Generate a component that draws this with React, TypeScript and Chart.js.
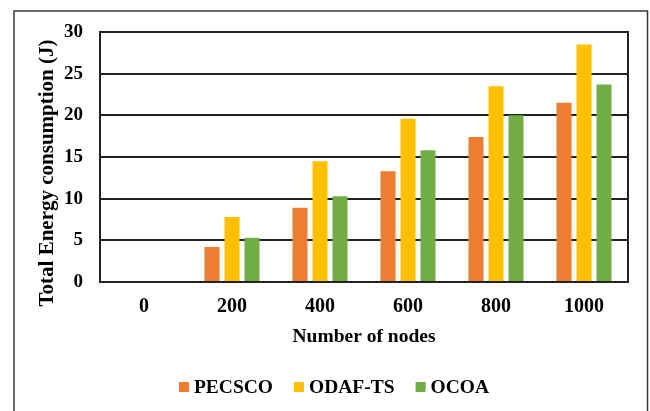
import React, { useEffect, useRef } from "react";
import { Chart, registerables } from "chart.js";

Chart.register(...registerables);

const categories = ["0", "200", "400", "600", "800", "1000"];
const pecsco = [0, 4.2, 8.9, 13.3, 17.4, 21.5];
const odafTs = [0, 7.8, 14.5, 19.6, 23.5, 28.5];
const ocoa = [0, 5.3, 10.3, 15.8, 20.0, 23.7];
const seriesLabels = ["PECSCO", "ODAF-TS", "OCOA"];
const seriesColors = ["#ED7D31", "#FFC000", "#70AD47"];
const yTitle = "Total Energy consumption (J)";
const xTitle = "Number of nodes";

const FONT = "'Liberation Serif', 'Times New Roman', serif";

// Frame, outer border, rotated y title and the legend row
const decorations = {
  id: "decorations",
  afterDraw(chart: any) {
    const { ctx, chartArea } = chart;
    ctx.save();

    // outer box around the whole figure
    ctx.strokeStyle = "#3a3a3a";
    ctx.lineWidth = 1.5;
    ctx.strokeRect(14, 11, 633.5, 420);

    // plot frame
    ctx.strokeStyle = "#222";
    ctx.lineWidth = 2;
    ctx.strokeRect(
      chartArea.left,
      chartArea.top,
      chartArea.right - chartArea.left,
      chartArea.bottom - chartArea.top
    );

    // y axis title
    ctx.fillStyle = "#000";
    ctx.font = `bold 21px ${FONT}`;
    ctx.textAlign = "center";
    ctx.textBaseline = "middle";
    ctx.translate(48, 173);
    ctx.rotate(-Math.PI / 2);
    ctx.fillText(yTitle, 0, 0);
    ctx.setTransform(1, 0, 0, 1, 0, 0);

    // legend
    ctx.font = `bold 19.5px ${FONT}`;
    ctx.textAlign = "left";
    const box = 10;
    const gap = 5;
    const itemGap = 21;
    const items = chart.data.datasets.map((ds: any) => ({
      label: ds.label,
      color: ds.backgroundColor,
      w: box + gap + ctx.measureText(ds.label).width,
    }));
    const total =
      items.reduce((s: number, it: any) => s + it.w, 0) + itemGap * (items.length - 1);
    let x = 334 - total / 2;
    const cy = 387;
    items.forEach((it: any) => {
      ctx.fillStyle = it.color;
      ctx.fillRect(x, cy - box / 2, box, box);
      ctx.fillStyle = "#000";
      ctx.fillText(it.label, x + box + gap, cy + 1);
      x += it.w + itemGap;
    });

    ctx.restore();
  },
};

export default function App() {
  const canvasRef = useRef<HTMLCanvasElement | null>(null);

  useEffect(() => {
    if (!canvasRef.current) return;
    const values = [pecsco, odafTs, ocoa];
    const chart = new Chart(canvasRef.current, {
      type: "bar",
      data: {
        labels: categories,
        datasets: seriesLabels.map((label, i) => ({
          label,
          data: values[i],
          backgroundColor: seriesColors[i],
          borderWidth: 0,
          categoryPercentage: 0.682,
          barPercentage: 0.75,
        })),
      },
      options: {
        responsive: false,
        animation: false,
        devicePixelRatio: 1,
        layout: { padding: { left: 20, right: 22, top: 32, bottom: 0 } },
        plugins: {
          legend: { display: false },
          tooltip: { enabled: false },
        },
        scales: {
          x: {
            grid: { display: false, drawTicks: false },
            border: { display: false },
            ticks: {
              color: "#000",
              padding: 13,
              font: { family: FONT, size: 20, weight: "bold" },
            },
            title: {
              display: true,
              text: xTitle,
              color: "#000",
              padding: { top: 0, bottom: 62 },
              font: { family: FONT, size: 19.5, weight: "bold", lineHeight: 1.2 },
            },
            afterFit(scale: any) {
              scale.height = 129;
            },
          },
          y: {
            min: 0,
            max: 30,
            grid: { color: "#222", lineWidth: 2, drawTicks: false },
            border: { display: false },
            ticks: {
              stepSize: 5,
              color: "#000",
              padding: 17,
              font: { family: FONT, size: 19, weight: "bold" },
            },
            afterFit(scale: any) {
              scale.width = 80;
            },
          },
        },
      },
      plugins: [decorations],
    });
    return () => chart.destroy();
  }, []);

  return (
    <div
      style={{
        position: "absolute",
        left: 0,
        top: 0,
        width: 650,
        height: 411,
        background: "#fff",
      }}
    >
      <canvas ref={canvasRef} width={650} height={411} />
    </div>
  );
}
